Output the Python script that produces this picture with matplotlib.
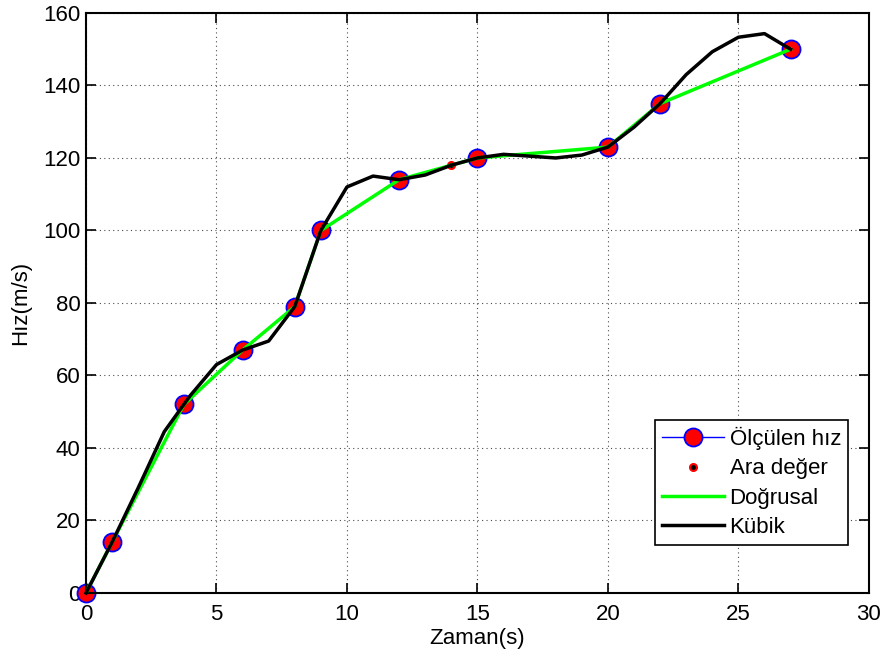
import numpy as np
from matplotlib import pyplot as plt

# olculen hiz verisi
zaman = [0, 1, 3.75, 6, 8, 9, 12, 15, 20, 22, 27]
hiz = [0, 14, 52, 67, 79, 100, 114, 120, 123, 135, 150]

# ara deger (t=14)
ara_t = [14]
ara_v = [118]

# kubik egri, tamsayi adimlarda okunan degerler
kubik_t = list(range(0, 28))
kubik_v = [0, 14, 29, 44.5, 54.5, 63, 67, 69.5, 79, 100, 112, 115, 114, 115.3,
           118, 120, 121, 120.5, 120, 120.8, 123, 128.5, 135, 143, 149.3,
           153.3, 154.3, 150]

plt.rcParams['font.family'] = ['Liberation Sans', 'DejaVu Sans']
plt.rcParams['font.size'] = 16

fig = plt.figure(figsize=(8.83, 6.61), dpi=100)
ax = fig.add_axes([0.0974, 0.1029, 0.8866, 0.8775])

ax.plot(zaman, hiz, '-', color='blue', lw=1, marker='o', ms=13,
        mfc='red', mec='blue', mew=1.3, label='Ölçülen hız', zorder=2,
        clip_on=False)
ax.plot(ara_t, ara_v, 'o', ms=5, mfc='black', mec='red', mew=1.5,
        label='Ara değer', zorder=3)
ax.plot(zaman, hiz, '-', color='#00ff00', lw=2.5, label='Doğrusal', zorder=4)
ax.plot(kubik_t, kubik_v, '-', color='black', lw=2.5, label='Kübik', zorder=5,
        clip_on=False)

ax.set_xlim(0, 30)
ax.set_ylim(0, 160)
ax.set_xticks(range(0, 31, 5))
ax.set_yticks(range(0, 161, 20))
ax.grid(True, color='black', linestyle=(0, (1, 3)), linewidth=0.8, alpha=0.7)
ax.tick_params(direction='in', length=7, width=1.2, top=True, right=True,
               labeltop=False, labelright=False)
ax.tick_params(axis='x', pad=8)
ax.tick_params(axis='y', pad=4)
for s in ax.spines.values():
    s.set_linewidth(1.5)

ax.set_xlabel('Zaman(s)', labelpad=2)
ax.set_ylabel('Hız(m/s)', labelpad=9)

leg = ax.legend(loc='lower right', bbox_to_anchor=(0.973, 0.083),
                fancybox=False, framealpha=1, edgecolor='black',
                handlelength=2.8, borderpad=0.3, labelspacing=0.38,
                handletextpad=0.25, borderaxespad=0)
leg.get_frame().set_linewidth(1.2)

plt.savefig('out.png', dpi=100)
